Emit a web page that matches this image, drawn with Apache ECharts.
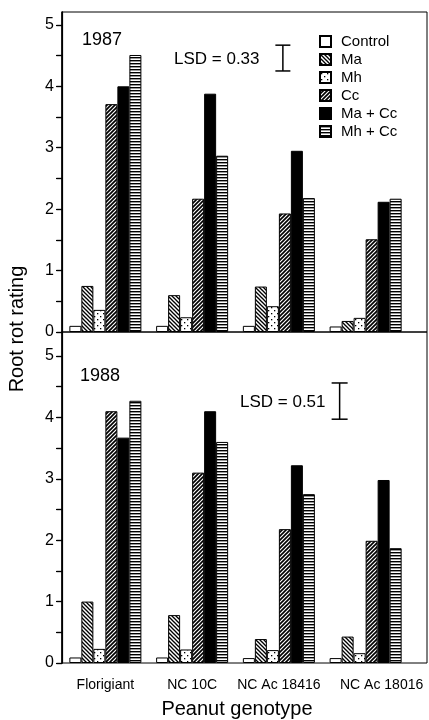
<!DOCTYPE html>
<html>
<head>
<meta charset="utf-8">
<script src="https://cdn.jsdelivr.net/npm/echarts@6/dist/echarts.min.js"></script>
<style>
  html, body { margin: 0; padding: 0; background: #fff; }
  #main { width: 429px; height: 720px; }
</style>
</head>
<body>
<div id="main"></div>
<script>
var genotypes = ['Florigiant', 'NC 10C', 'NC Ac 18416', 'NC Ac 18016'];
var treatments = ['Control', 'Ma', 'Mh', 'Cc', 'Ma + Cc', 'Mh + Cc'];

// 1987, one row per treatment, one value per genotype
var y1987 = [
  [0.10, 0.10, 0.10, 0.09],
  [0.75, 0.60, 0.74, 0.18],
  [0.36, 0.24, 0.42, 0.23],
  [3.71, 2.17, 1.93, 1.51],
  [4.00, 3.88, 2.95, 2.12],
  [4.51, 2.87, 2.18, 2.17]
];
// 1988
var y1988 = [
  [0.09, 0.09, 0.08, 0.08],
  [1.00, 0.78, 0.39, 0.43],
  [0.23, 0.22, 0.21, 0.16],
  [4.10, 3.10, 2.18, 1.99],
  [3.67, 4.10, 3.22, 2.98],
  [4.27, 3.60, 2.75, 1.87]
];

var years = ['1987', '1988'];
var lsdValues = ['0.33', '0.51'];
// LSD bar ends as drawn on the rating axis
var lsdTop = [4.67, 4.56];
var lsdBottom = [4.25, 3.97];
var lsdCat = [2, 3];

var yTicks = [0, 0.5, 1, 1.5, 2, 2.5, 3, 3.5, 4, 4.5, 5];
var yLabels = [0, 1, 2, 3, 4, 5];

var FONT = '"Liberation Sans", Arial, Helvetica, sans-serif';

// --- fill patterns ---
function makeTile(w, h, draw){
  var c = document.createElement('canvas');
  c.width = w; c.height = h;
  var ctx = c.getContext('2d');
  ctx.fillStyle = '#fff';
  ctx.fillRect(0, 0, w, h);
  ctx.fillStyle = '#000';
  ctx.strokeStyle = '#000';
  draw(ctx, w, h);
  return { image: c, repeat: 'repeat' };
}

var patBack = makeTile(4, 4, function(ctx, s){
  ctx.lineWidth = 1.3;
  for(var k = -1; k <= 1; k++){
    ctx.beginPath();
    ctx.moveTo(-1, -1 + k * s);
    ctx.lineTo(s + 1, s + 1 + k * s);
    ctx.stroke();
  }
});
var patSlash = makeTile(4, 4, function(ctx, s){
  ctx.lineWidth = 1.7;
  for(var k = 0; k <= 2; k++){
    ctx.beginPath();
    ctx.moveTo(-1, k * s + 1);
    ctx.lineTo(s + 1, k * s - s - 1);
    ctx.stroke();
  }
});
var patDots = makeTile(6, 6, function(ctx){
  ctx.fillRect(1, 1, 1.3, 1.3);
  ctx.fillRect(4, 4, 1.3, 1.3);
});
var patHoriz = makeTile(4, 3, function(ctx, w){
  ctx.fillRect(0, 0, w, 1.4);
});

var fills = ['#fff', patBack, patDots, patSlash, '#000', patHoriz];

function buildSeries(values, gi){
  var out = [];
  for(var i = 0; i < treatments.length; i++){
    out.push({
      name: treatments[i],
      type: 'bar',
      xAxisIndex: gi,
      yAxisIndex: gi,
      data: values[i],
      barGap: '0%',
      barCategoryGap: '17%',
      itemStyle: { color: fills[i], borderColor: '#000', borderWidth: 1 },
      emphasis: { disabled: true },
      z: 3
    });
  }
  return out;
}

function lsdSeries(gi){
  return {
    type: 'custom',
    xAxisIndex: gi,
    yAxisIndex: gi,
    z: 4,
    silent: true,
    data: [[lsdCat[gi], lsdTop[gi], lsdBottom[gi]]],
    renderItem: function(params, api){
      var off = gi === 0 ? 4 : -26;
      var half = gi === 0 ? 7.5 : 8;
      var top = api.coord([api.value(0), api.value(1)]);
      var bot = api.coord([api.value(0), api.value(2)]);
      var x = top[0] + off;
      var st = { stroke: '#000', lineWidth: 1.5 };
      return {
        type: 'group',
        children: [
          { type: 'line', shape: { x1: x, y1: top[1], x2: x, y2: bot[1] }, style: st },
          { type: 'line', shape: { x1: x - half, y1: top[1], x2: x + half, y2: top[1] }, style: st },
          { type: 'line', shape: { x1: x - half, y1: bot[1], x2: x + half, y2: bot[1] }, style: st }
        ]
      };
    }
  };
}

var panels = [
  { top: 12, height: 320, max: 5.21 },
  { top: 332, height: 331, max: 5.39 }
];

var grids = [], xAxes = [], yAxes = [];
panels.forEach(function(p, i){
  grids.push({ left: 62, top: p.top, width: 347, height: p.height });
  xAxes.push({
    type: 'category', gridIndex: i, data: genotypes,
    axisLine: { show: false }, axisTick: { show: false },
    axisLabel: i === 1 ? {
      show: true, interval: 0, hideOverlap: false,
      color: '#000', fontSize: 14, fontFamily: FONT, margin: 15,
      formatter: function(v, idx){ return idx === 3 ? '{s|' + v + '}' : v; },
      rich: { s: { fontSize: 14, fontFamily: FONT, color: '#000', padding: [0, 0, 0, 32] } }
    } : { show: false }
  });
  yAxes.push({
    type: 'value', gridIndex: i, min: 0, max: p.max,
    splitLine: { show: false },
    axisLine: { show: true, lineStyle: { color: '#000', width: 1.5 } },
    axisTick: { show: true, length: 6, customValues: yTicks, lineStyle: { color: '#000', width: 1.2 } },
    axisLabel: { customValues: yLabels, color: '#000', fontSize: 16, fontFamily: FONT, margin: 8 }
  });
});
// outer frames with the inward ticks on the right
panels.forEach(function(p, i){
  grids.push({ left: 62, top: p.top, right: 2, height: p.height, show: true, borderColor: '#000', borderWidth: 1, backgroundColor: 'transparent' });
  xAxes.push({ type: 'value', gridIndex: i + 2, show: false });
  yAxes.push({
    type: 'value', gridIndex: i + 2, min: 0, max: p.max, position: 'right',
    splitLine: { show: false },
    axisLine: { show: true, lineStyle: { color: '#000', width: 1.2 } },
    axisTick: { show: true, inside: true, length: 5, customValues: yTicks, lineStyle: { color: '#000', width: 1.2 } },
    axisLabel: { show: false }
  });
});

var series = buildSeries(y1987, 0).concat(buildSeries(y1988, 1));
series.push(lsdSeries(0), lsdSeries(1));

var texts = [
  { type: 'text', left: 82, top: 31, style: { text: years[0], fontSize: 18, fontFamily: FONT, fill: '#000' } },
  { type: 'text', left: 80, top: 367, style: { text: years[1], fontSize: 18, fontFamily: FONT, fill: '#000' } },
  { type: 'text', left: 174, top: 51, style: { text: 'LSD = ' + lsdValues[0], fontSize: 17, fontFamily: FONT, fill: '#000' } },
  { type: 'text', left: 240, top: 394, style: { text: 'LSD = ' + lsdValues[1], fontSize: 17, fontFamily: FONT, fill: '#000' } },
  { type: 'text', x: 17, y: 329, rotation: Math.PI / 2,
    style: { text: 'Root rot rating', fontSize: 20, fontFamily: FONT, fill: '#000', align: 'center', verticalAlign: 'middle' } },
  { type: 'text', x: 237, y: 709,
    style: { text: 'Peanut genotype', fontSize: 20, fontFamily: FONT, fill: '#000', align: 'center', verticalAlign: 'middle' } }
];

var chart = echarts.init(document.getElementById('main'), null, { renderer: 'canvas' });
chart.setOption({
  backgroundColor: '#fff',
  animation: false,
  grid: grids,
  xAxis: xAxes,
  yAxis: yAxes,
  legend: {
    data: treatments,
    orient: 'vertical',
    left: 314, top: 29,
    itemWidth: 11, itemHeight: 11, itemGap: 3,
    icon: 'rect',
    selectedMode: false,
    textStyle: { color: '#000', fontSize: 15, fontFamily: FONT, padding: [0, 0, 0, 5] }
  },
  graphic: texts,
  series: series
});
</script>
</body>
</html>
